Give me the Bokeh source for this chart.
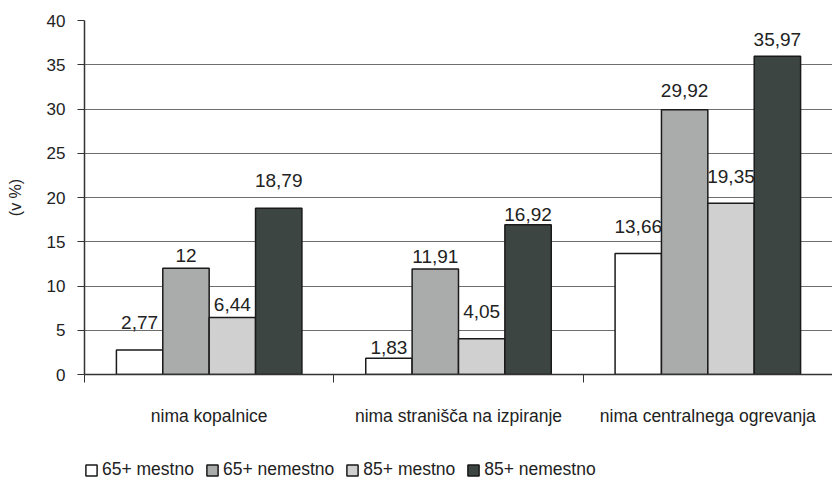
from bokeh.plotting import figure
from bokeh.layouts import column
from bokeh.models import FixedTicker, Legend, LegendItem, ColumnDataSource, Range1d, LabelSet
from bokeh.core.properties import value
from bokeh.embed import file_html
from bokeh.resources import INLINE

categories = ["nima kopalnice", "nima stranišča na izpiranje", "nima centralnega ogrevanja"]
series = ["65+ mestno", "65+ nemestno", "85+ mestno", "85+ nemestno"]
values = {
    "65+ mestno": [2.77, 1.83, 13.66],
    "65+ nemestno": [12, 11.91, 29.92],
    "85+ mestno": [6.44, 4.05, 19.35],
    "85+ nemestno": [18.79, 16.92, 35.97],
}
labels = {
    "65+ mestno": ["2,77", "1,83", "13,66"],
    "65+ nemestno": ["12", "11,91", "29,92"],
    "85+ mestno": ["6,44", "4,05", "19,35"],
    "85+ nemestno": ["18,79", "16,92", "35,97"],
}
y_ticks = [0, 5, 10, 15, 20, 25, 30, 35, 40]

# styling (not data)
colors = ["#ffffff", "#aaacab", "#d0d0d0", "#3d4543"]
label_gap_px = {
    "65+ mestno": [21, 4, 21],
    "65+ nemestno": [6, 6, 13],
    "85+ mestno": [7, 21, 20],
    "85+ nemestno": [21, 4, 10],
}
FONT = "Liberation Sans"

p = figure(width=832, height=440, output_backend="svg", toolbar_location=None,
           x_range=Range1d(0, 3), y_range=Range1d(0, 40),
           min_border_left=84, min_border_top=20, min_border_right=0, min_border_bottom=66)
p.outline_line_color = None

bar_w = 0.186
offsets = [-0.279, -0.093, 0.093, 0.279]
for s, c, off in zip(series, colors, offsets):
    xs = [i + 0.5 + off for i in range(len(categories))]
    src = ColumnDataSource(dict(x=xs, top=values[s], lab=labels[s], gap=label_gap_px[s]))
    p.vbar(x="x", top="top", width=bar_w, source=src, fill_color=c,
           line_color="#1a1a1a", line_width=1.5)
    ls = LabelSet(x="x", y="top", text="lab", source=src, text_align="center",
                  text_baseline="alphabetic", y_offset="gap", text_font_size="19px",
                  text_font=value(FONT), text_color="#222222")
    p.add_layout(ls)

p.yaxis.ticker = FixedTicker(ticks=y_ticks)
p.yaxis.axis_label = "(v %)"
p.yaxis.axis_label_text_font_style = "normal"
p.yaxis.axis_label_text_font_size = "16px"
p.yaxis.axis_label_text_font = FONT
p.yaxis.axis_label_text_color = "#222222"
p.yaxis.axis_label_standoff = 20
p.yaxis.major_label_text_font_size = "17px"
p.yaxis.major_label_text_font = FONT
p.yaxis.major_label_text_color = "#222222"
p.yaxis.major_tick_out = 7
p.yaxis.major_tick_in = 0
p.yaxis.minor_tick_out = 0
p.yaxis.minor_tick_in = 0
p.yaxis.axis_line_color = "#333333"
p.yaxis.major_tick_line_color = "#333333"
p.yaxis.axis_line_width = 1.5
p.yaxis.major_label_standoff = 12

p.xaxis.ticker = FixedTicker(ticks=[0.5, 1.5, 2.5], minor_ticks=[0, 1, 2, 3])
p.xaxis.major_label_overrides = {0.5: categories[0], 1.5: categories[1], 2.5: categories[2]}
p.xaxis.major_tick_out = 0
p.xaxis.major_tick_in = 0
p.xaxis.minor_tick_out = 8
p.xaxis.minor_tick_in = 0
p.xaxis.minor_tick_line_color = "#333333"
p.xaxis.axis_line_color = "#333333"
p.xaxis.axis_line_width = 1.5
p.xaxis.major_label_standoff = 23
p.xaxis.major_label_text_font_size = "17.5px"
p.xaxis.major_label_text_font = FONT
p.xaxis.major_label_text_color = "#222222"

p.xgrid.grid_line_color = None
p.ygrid.ticker = FixedTicker(ticks=y_ticks[1:])
p.ygrid.grid_line_color = "#6e6e6e"
p.ygrid.grid_line_width = 1

# legend in a strip below the chart (legend swatches only, nothing drawn)
p2 = figure(width=832, height=40, output_backend="svg", toolbar_location=None,
            x_range=Range1d(0, 1), y_range=Range1d(0, 1),
            min_border_left=84, min_border_top=0, min_border_right=0, min_border_bottom=0)
p2.axis.visible = False
p2.grid.grid_line_color = None
p2.outline_line_color = None
items = []
for s, c in zip(series, colors):
    r2 = p2.vbar(x=[float("nan")], top=[float("nan")], width=0.1, fill_color=c,
                 line_color="#1a1a1a", line_width=1.5)
    items.append(LegendItem(label=s, renderers=[r2]))
legend = Legend(items=items, orientation="horizontal", location="bottom_left",
                label_text_font_size="17.5px", label_text_font=FONT,
                label_text_color="#222222",
                glyph_width=14, glyph_height=14, spacing=11, padding=0,
                margin=0, border_line_color=None, background_fill_alpha=0,
                label_standoff=4)
p2.add_layout(legend, "center")

layout = column(p, p2, spacing=0)
open("out.html", "w").write(file_html(layout, INLINE))
